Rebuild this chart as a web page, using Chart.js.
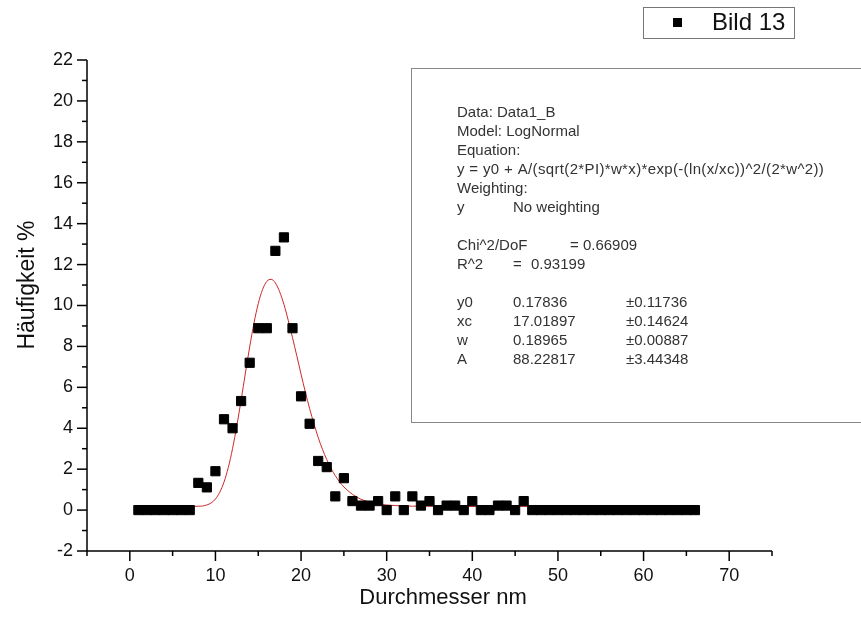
<!DOCTYPE html>
<html>
<head>
<meta charset="utf-8">
<script src="https://cdn.jsdelivr.net/npm/chart.js@4.4.0/dist/chart.umd.min.js"></script>
<style>
  html, body { margin: 0; padding: 0; background: #fff; }
  #wrap { width: 861px; height: 631px; }
</style>
</head>
<body>
<div id="wrap"><canvas id="sizeCanvas" width="861" height="631"></canvas></div>
<script>
var diameter = [1, 2, 3, 4, 5, 6, 7, 8, 9, 10, 11, 12, 13, 14, 15, 16, 17, 18, 19, 20,
    21, 22, 23, 24, 25, 26, 27, 28, 29, 30, 31, 32, 33, 34, 35, 36, 37, 38, 39, 40,
    41, 42, 43, 44, 45, 46, 47, 48, 49, 50, 51, 52, 53, 54, 55, 56, 57, 58, 59, 60,
    61, 62, 63, 64, 65, 66];
var frequency = [0, 0, 0, 0, 0, 0, 0, 1.33, 1.11, 1.9, 4.44, 4.0, 5.33, 7.2, 8.89, 8.89, 12.67, 13.33, 8.89, 5.56,
    4.22, 2.4, 2.1, 0.67, 1.56, 0.44, 0.22, 0.22, 0.44, 0, 0.67, 0, 0.67, 0.22, 0.44, 0, 0.22, 0.22, 0, 0.44,
    0, 0, 0.22, 0.22, 0, 0.44, 0, 0, 0, 0, 0, 0, 0, 0, 0, 0, 0, 0, 0, 0,
    0, 0, 0, 0, 0, 0];

// LogNormal fit line
var fitX = [1, 4, 7.5, 8, 8.5, 9, 9.5, 10, 10.5, 11, 11.5, 12, 12.5, 13, 13.5, 14, 14.5, 15, 15.5, 16,
    16.5, 17, 17.5, 18, 18.5, 19, 19.5, 20, 20.5, 21, 21.5, 22, 22.5, 23, 23.5, 24, 24.5, 25, 26, 27,
    28, 29, 30, 32, 34, 37, 41, 47, 56, 66];
var fitY = [0.18, 0.18, 0.18, 0.19, 0.2, 0.25, 0.35, 0.54, 0.87, 1.37, 2.08, 3.01, 4.13, 5.38, 6.7, 7.98, 9.14, 10.09, 10.78, 11.18,
    11.28, 11.1, 10.67, 10.05, 9.28, 8.43, 7.54, 6.64, 5.77, 4.96, 4.22, 3.55, 2.97, 2.47, 2.04, 1.68, 1.38, 1.13, 0.77, 0.53,
    0.39, 0.3, 0.25, 0.2, 0.19, 0.18, 0.18, 0.18, 0.18, 0.18];

var seriesLabel = 'Bild 13';
var xTitle = 'Durchmesser nm';
var yTitle = 'Häufigkeit %';
var xTickLabels = [0, 10, 20, 30, 40, 50, 60, 70];
var yTickLabels = [-2, 0, 2, 4, 6, 8, 10, 12, 14, 16, 18, 20, 22];

var fitHeader = ['Data: Data1_B', 'Model: LogNormal', 'Equation:',
    'y = y0 + A/(sqrt(2*PI)*w*x)*exp(-(ln(x/xc))^2/(2*w^2))', 'Weighting:'];
var fitWeighting = ['y', 'No weighting'];
var fitStats = [['Chi^2/DoF', '= 0.66909'], ['R^2', '=', '0.93199']];
var paramNames = ['y0', 'xc', 'w', 'A'];
var paramValues = ['0.17836', '17.01897', '0.18965', '88.22817'];
var paramErrors = ['±0.11736', '±0.14624', '±0.00887', '±3.44348'];

var fontFamily = 'Arial, "Liberation Sans", sans-serif';

function line(ctx, x1, y1, x2, y2) {
    ctx.beginPath();
    ctx.moveTo(x1, y1);
    ctx.lineTo(x2, y2);
    ctx.stroke();
}

var extrasPlugin = {
    id: 'extras',
    afterDraw: function(chart) {
        var ctx = chart.ctx;
        var xs = chart.scales.x, ys = chart.scales.y;
        ctx.save();

        // axes with major / minor ticks
        ctx.strokeStyle = '#000';
        ctx.lineWidth = 1.5;
        ctx.beginPath();
        ctx.moveTo(xs.left, ys.top);
        ctx.lineTo(xs.left, ys.bottom);
        ctx.lineTo(xs.right, ys.bottom);
        ctx.stroke();
        for (var v = ys.min; v <= ys.max; v++) {
            var py = ys.getPixelForValue(v);
            var len = (v % 2 === 0) ? 10 : 5;
            line(ctx, xs.left - len, py, xs.left, py);
        }
        for (var u = xs.min; u <= xs.max; u += 5) {
            var px = xs.getPixelForValue(u);
            var l2 = (u % 10 === 0) ? 10 : 5;
            line(ctx, px, ys.bottom, px, ys.bottom + l2);
        }

        // axis titles
        ctx.fillStyle = '#111';
        ctx.font = '22px ' + fontFamily;
        ctx.textAlign = 'center';
        ctx.textBaseline = 'middle';
        ctx.fillText(xTitle, 443, 598);
        ctx.save();
        ctx.translate(28, 285);
        ctx.rotate(-Math.PI / 2);
        ctx.font = '23px ' + fontFamily;
        ctx.fillText(yTitle, 0, 0);
        ctx.restore();

        // legend box
        ctx.strokeStyle = '#777';
        ctx.lineWidth = 1;
        ctx.strokeRect(643.5, 7.5, 151, 31);
        ctx.fillStyle = '#000';
        ctx.fillRect(673, 18, 9, 9);
        ctx.fillStyle = '#111';
        ctx.font = '24px ' + fontFamily;
        ctx.textAlign = 'left';
        ctx.fillText(seriesLabel, 712, 23);

        // fit results box
        ctx.strokeStyle = '#888';
        ctx.strokeRect(411.5, 68.5, 470, 354);
        ctx.fillStyle = '#333';
        ctx.font = '15px ' + fontFamily;
        var y0 = 113, step = 19;
        fitHeader.forEach(function(t, i) {
            ctx.letterSpacing = (i === 3) ? '0.35px' : '0px';
            ctx.fillText(t, 457, y0 + step * i);
        });
        ctx.letterSpacing = '0px';
        ctx.fillText(fitWeighting[0], 457, y0 + step * 5);
        ctx.fillText(fitWeighting[1], 513, y0 + step * 5);
        ctx.fillText(fitStats[0][0], 457, y0 + step * 7);
        ctx.fillText(fitStats[0][1], 570, y0 + step * 7);
        ctx.fillText(fitStats[1][0], 457, y0 + step * 8);
        ctx.fillText(fitStats[1][1], 513, y0 + step * 8);
        ctx.fillText(fitStats[1][2], 531, y0 + step * 8);
        paramNames.forEach(function(n, i) {
            var yy = y0 + step * (10 + i);
            ctx.fillText(n, 457, yy);
            ctx.fillText(paramValues[i], 513, yy);
            ctx.fillText(paramErrors[i], 626, yy);
        });
        ctx.restore();
    }
};

const ctxSize = document.getElementById('sizeCanvas').getContext('2d');
const chartSize = new Chart(ctxSize, {
    type: 'scatter',
    data: {
        datasets: [{
            label: seriesLabel,
            data: diameter.map(function(d, i) { return {x: d, y: frequency[i]}; }),
            pointStyle: 'rect',
            pointRadius: 6.5,
            pointHoverRadius: 6.5,
            backgroundColor: '#000',
            borderColor: '#000',
            borderWidth: 1
        }, {
            label: 'LogNormal',
            data: fitX.map(function(d, i) { return {x: d, y: fitY[i]}; }),
            showLine: true,
            pointRadius: 0,
            borderColor: 'rgb(205, 40, 40)',
            borderWidth: 1,
            cubicInterpolationMode: 'monotone',
            fill: false
        }]
    },
    options: {
        responsive: false,
        animation: false,
        devicePixelRatio: 1,
        layout: { padding: { left: 0, top: 60, right: 89, bottom: 0 } },
        plugins: { legend: { display: false }, tooltip: { enabled: false } },
        scales: {
            x: {
                type: 'linear',
                min: -5,
                max: 75,
                afterFit: function(s) { s.height = 80; },
                grid: { display: false },
                border: { display: false },
                ticks: {
                    stepSize: 5,
                    autoSkip: false,
                    maxRotation: 0,
                    padding: 6,
                    color: '#111',
                    font: { size: 18, family: fontFamily },
                    callback: function(v) { return xTickLabels.indexOf(v) >= 0 ? String(v) : ''; }
                }
            },
            y: {
                type: 'linear',
                min: -2,
                max: 22,
                afterFit: function(s) { s.width = 87; },
                grid: { display: false },
                border: { display: false },
                ticks: {
                    stepSize: 2,
                    autoSkip: false,
                    padding: 6,
                    color: '#111',
                    font: { size: 18, family: fontFamily },
                    callback: function(v) { return yTickLabels.indexOf(v) >= 0 ? String(v) : ''; }
                }
            }
        }
    },
    plugins: [extrasPlugin]
});
</script>
</body>
</html>
